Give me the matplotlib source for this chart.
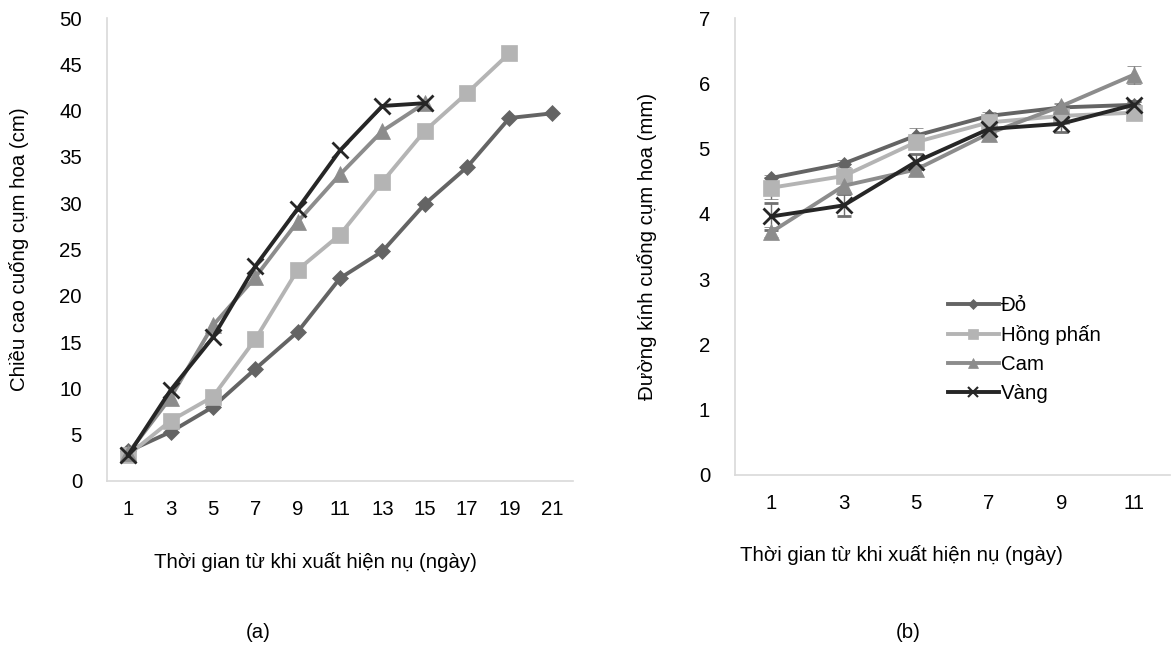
import matplotlib
matplotlib.use("Agg")
import matplotlib.pyplot as plt
import numpy as np
from matplotlib.lines import Line2D

plt.rcParams['font.family'] = ['Liberation Sans', 'DejaVu Sans']

# ---- data (a) ----
days_a = [1, 3, 5, 7, 9, 11, 13, 15, 17, 19, 21]
do_a = [3.2, 5.3, 8.0, 12.1, 16.1, 21.9, 24.8, 29.9, 33.9, 39.2, 39.7]
hong_a = [2.8, 6.5, 9.1, 15.3, 22.8, 26.6, 32.3, 37.8, 41.9, 46.2]
cam_a = [3.0, 9.0, 16.8, 22.0, 28.0, 33.1, 37.8, 40.8]
vang_a = [2.8, 9.8, 15.5, 23.2, 29.4, 35.7, 40.5, 40.8]

# ---- data (b) ----
days_b = [1, 3, 5, 7, 9, 11]
do_b = [4.55, 4.77, 5.20, 5.50, 5.63, 5.67]
hong_b = [4.40, 4.58, 5.10, 5.40, 5.50, 5.55]
cam_b = [3.72, 4.43, 4.68, 5.23, 5.65, 6.13]
vang_b = [3.96, 4.13, 4.80, 5.30, 5.38, 5.67]
do_err = [0.05, 0.05, 0.12, 0.06, 0.05, 0.05]
hong_err = [0.17, 0.10, 0.10, 0.06, 0.06, 0.12]
cam_err = [0.08, 0.10, 0.08, 0.06, 0.05, 0.14]
vang_err = [0.20, 0.17, 0.12, 0.06, 0.13, 0.06]

names = ['Đỏ', 'Hồng phấn', 'Cam', 'Vàng']
colors = ['#646464', '#b4b4b4', '#8c8c8c', '#262626']
markers = ['D', 's', '^', 'x']
msizes_a = [8.5, 12, 12, 12]
msizes_b = [7.5, 11, 11, 11]

fig = plt.figure(figsize=(11.73, 6.46), dpi=100)
ax1 = fig.add_axes([107/1173, 1-481/646, (573-107)/1173, (481-18)/646])
ax2 = fig.add_axes([735/1173, 1-475/646, (1170-735)/1173, (475-18)/646])

FS = 14.7

def style(ax):
    for s in ['top', 'right']:
        ax.spines[s].set_visible(False)
    for s in ['left', 'bottom']:
        ax.spines[s].set_color('#d9d9d9')
        ax.spines[s].set_linewidth(1.2)
    ax.tick_params(length=0, labelsize=FS, colors='black')

series_a = [do_a, hong_a, cam_a, vang_a]
for vals, c, m, ms, n in zip(series_a, colors, markers, msizes_a, names):
    idx = np.arange(len(vals))
    ax1.plot(idx, vals, color=c, marker=m, markersize=ms, linewidth=2.8,
             markeredgewidth=2 if m == 'x' else 0.5, markeredgecolor=c, label=n, zorder=3)
ax1.set_xlim(-0.5, len(days_a) - 0.5)
ax1.set_ylim(0, 50)
ax1.set_yticks(range(0, 51, 5))
ax1.set_xticks(np.arange(len(days_a)))
ax1.set_xticklabels([str(d) for d in days_a])
ax1.tick_params(axis='y', pad=18)
ax1.tick_params(axis='x', pad=14)
style(ax1)
ax1.set_ylabel('Chiều cao cuống cụm hoa (cm)', fontsize=FS, labelpad=22)

series_b = [do_b, hong_b, cam_b, vang_b]
errs_b = [do_err, hong_err, cam_err, vang_err]
for vals, e, c, m, ms, n in zip(series_b, errs_b, colors, markers, msizes_b, names):
    idx = np.arange(len(vals))
    ax2.errorbar(idx, vals, yerr=e, color=c, marker=m, markersize=ms, linewidth=2.8,
                 markeredgewidth=2 if m == 'x' else 0.5, markeredgecolor=c,
                 ecolor='#707070', elinewidth=1, capsize=5, capthick=1, label=n, zorder=3)
ax2.set_xlim(-0.5, len(days_b) - 0.5)
ax2.set_ylim(0, 7)
ax2.set_yticks(range(0, 8))
ax2.set_xticks(np.arange(len(days_b)))
ax2.set_xticklabels([str(d) for d in days_b])
ax2.tick_params(axis='y', pad=18)
ax2.tick_params(axis='x', pad=14)
style(ax2)
ax2.set_ylabel('Đường kính cuống cụm hoa (mm)', fontsize=FS, labelpad=30)

lh = [Line2D([], [], color=c, marker=m, markersize=ms * 0.7, linewidth=2.8,
             markeredgewidth=1.5 if m == 'x' else 0.5, markeredgecolor=c)
      for c, m, ms in zip(colors, markers, msizes_b)]
ax2.legend(lh, names, loc='upper left', bbox_to_anchor=(0.47, 0.41), frameon=False,
           fontsize=FS, handlelength=2.5, handletextpad=0.1, labelspacing=0.5,
           borderaxespad=0)

fig.text(315/1173, 1-562/646, 'Thời gian từ khi xuất hiện nụ (ngày)', ha='center', va='center', fontsize=FS)
fig.text(901/1173, 1-555/646, 'Thời gian từ khi xuất hiện nụ (ngày)', ha='center', va='center', fontsize=FS)
fig.text(258/1173, 1-633/646, '(a)', ha='center', va='center', fontsize=FS)
fig.text(908/1173, 1-633/646, '(b)', ha='center', va='center', fontsize=FS)

fig.savefig('out.png', dpi=100)
